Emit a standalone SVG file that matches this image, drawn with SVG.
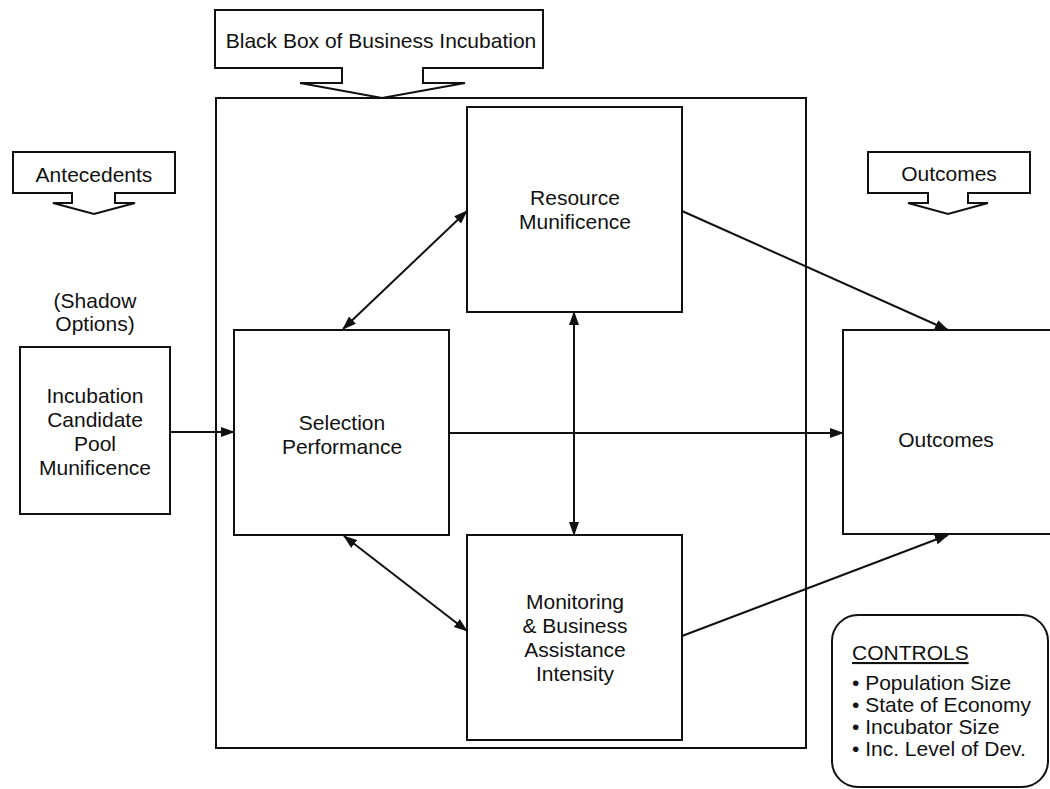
<svg xmlns="http://www.w3.org/2000/svg" width="1050" height="789" viewBox="0 0 1050 789">
<style>
.box{fill:#fff;stroke:#111;stroke-width:2}
.t{font-family:"Liberation Sans",Arial,sans-serif;font-size:21px;fill:#111;text-anchor:middle}
.tl{font-family:"Liberation Sans",Arial,sans-serif;font-size:21px;fill:#111}
.c{stroke:#111;stroke-width:2;fill:none}
</style>
<defs>
<marker id="ah" markerWidth="14" markerHeight="10" refX="13" refY="5" orient="auto-start-reverse" markerUnits="userSpaceOnUse">
<path d="M0,0 L14,5 L0,10 Z" fill="#111"/>
</marker>
</defs>
<rect width="1050" height="789" fill="#fff"/>
<g id="blackbox">
<rect class="box" x="216" y="98" width="590" height="650"/>
</g>
<g id="callout-blackbox">
<path class="box" d="M215,10 H543 V68 H423 V83 H465 L382,98 L300,83 H342 V68 H215 Z"/>
<text class="t" x="381" y="48">Black Box of Business Incubation</text>
</g>
<g id="callout-antecedents">
<path class="box" d="M13,152 H175 V193 H115 V203 H135 L94,214 L53,203 H72 V193 H13 Z"/>
<text class="t" x="94" y="182">Antecedents</text>
</g>
<g id="callout-outcomes">
<path class="box" d="M868,152 H1030 V193 H968 V203 H988 L948,214 L908,203 H928 V193 H868 Z"/>
<text class="t" x="949" y="181">Outcomes</text>
</g>
<g id="shadow-label">
<text class="t" x="95" y="308">(Shadow</text>
<text class="t" x="95" y="331">Options)</text>
</g>
<g id="pool">
<rect class="box" x="20" y="347" width="150" height="167"/>
<text class="t" x="95" y="403">Incubation</text>
<text class="t" x="95" y="427">Candidate</text>
<text class="t" x="95" y="451">Pool</text>
<text class="t" x="95" y="475">Munificence</text>
</g>
<g id="resource">
<rect class="box" x="467" y="107" width="215" height="205"/>
<text class="t" x="575" y="205">Resource</text>
<text class="t" x="575" y="229">Munificence</text>
</g>
<g id="selection">
<rect class="box" x="234" y="330" width="215" height="205"/>
<text class="t" x="342" y="430">Selection</text>
<text class="t" x="342" y="454">Performance</text>
</g>
<g id="monitoring">
<rect class="box" x="467" y="535" width="215" height="205"/>
<text class="t" x="575" y="609">Monitoring</text>
<text class="t" x="575" y="633">&amp; Business</text>
<text class="t" x="575" y="657">Assistance</text>
<text class="t" x="575" y="681">Intensity</text>
</g>
<g id="outcomes">
<rect class="box" x="843" y="330" width="215" height="204"/>
<text class="t" x="946" y="447">Outcomes</text>
</g>
<g id="controls">
<rect class="box" x="832" y="615" width="216" height="172" rx="26" ry="26"/>
<text class="tl" x="852" y="660" text-decoration="underline">CONTROLS</text>
<text class="tl" x="852" y="690">• Population Size</text>
<text class="tl" x="852" y="712">• State of Economy</text>
<text class="tl" x="852" y="734">• Incubator Size</text>
<text class="tl" x="852" y="756">• Inc. Level of Dev.</text>
</g>
<g id="connectors">
<line class="c" x1="170" y1="432" x2="234" y2="432" marker-end="url(#ah)"/>
<line class="c" x1="343" y1="329" x2="467" y2="211" marker-start="url(#ah)" marker-end="url(#ah)"/>
<line class="c" x1="574" y1="312" x2="574" y2="535" marker-start="url(#ah)" marker-end="url(#ah)"/>
<line class="c" x1="344" y1="536" x2="467" y2="631" marker-start="url(#ah)" marker-end="url(#ah)"/>
<line class="c" x1="682" y1="211" x2="948" y2="330" marker-end="url(#ah)"/>
<line class="c" x1="449" y1="433" x2="843" y2="433" marker-end="url(#ah)"/>
<line class="c" x1="682" y1="636" x2="948" y2="535" marker-end="url(#ah)"/>
</g>
</svg>
